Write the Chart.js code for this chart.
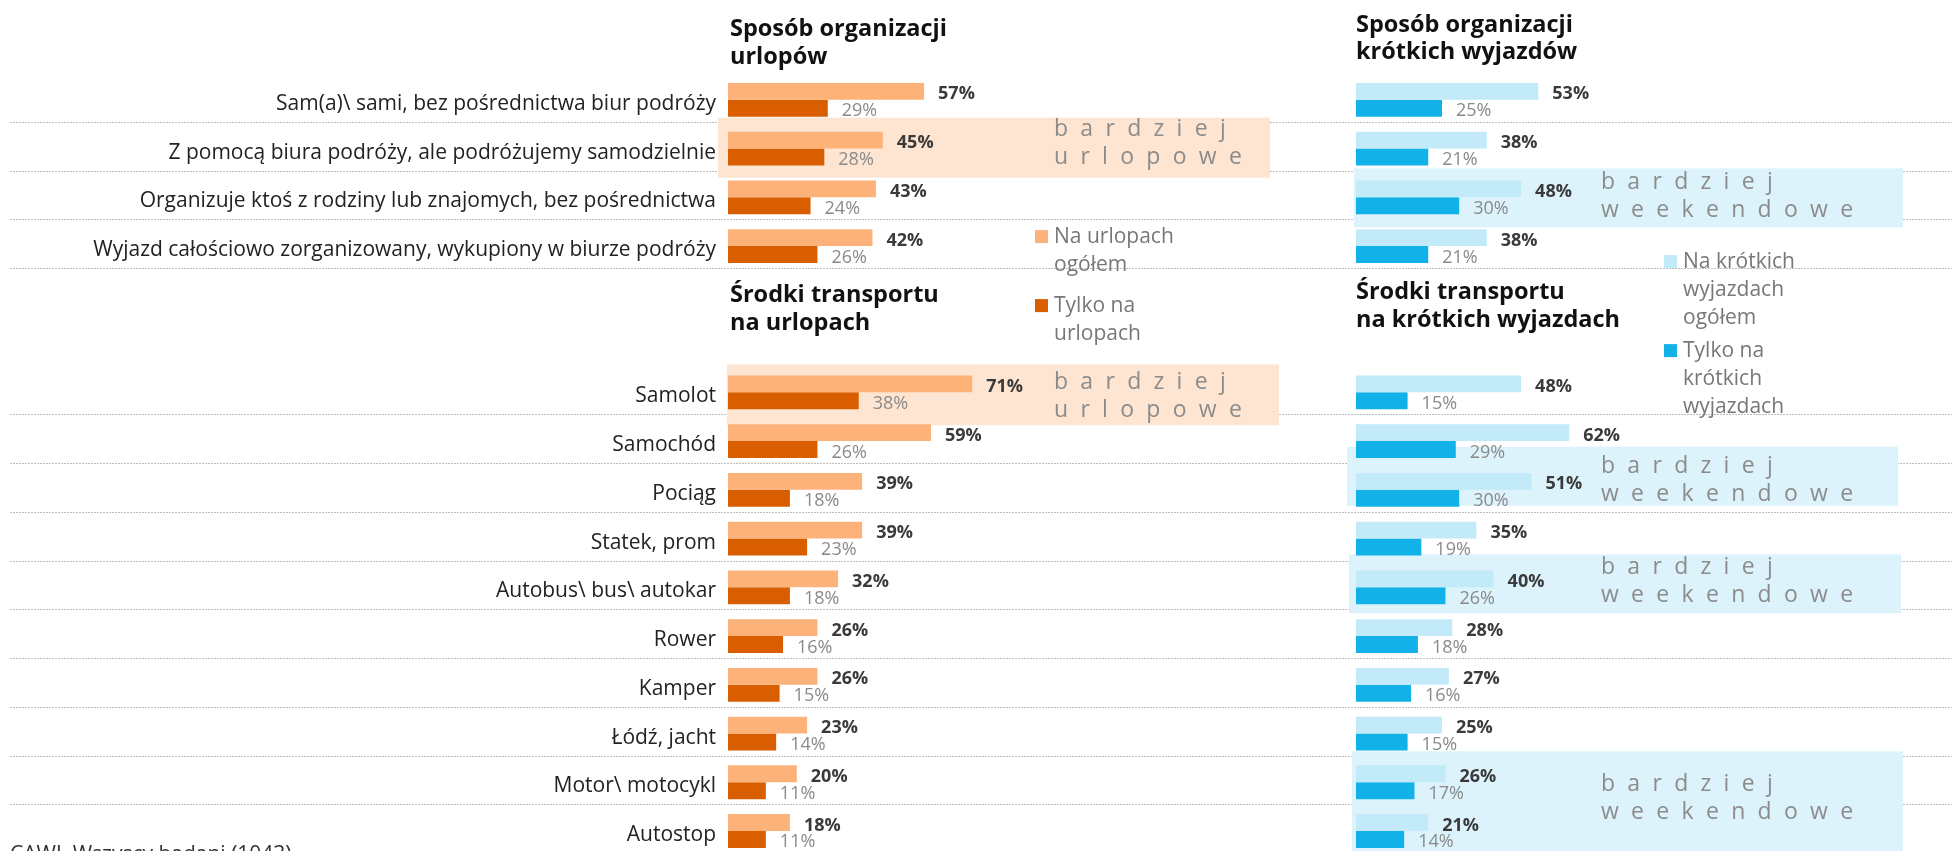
<!DOCTYPE html>
<html>
<head>
<meta charset="utf-8">
<script src="https://cdn.jsdelivr.net/npm/chart.js@4.4.0/dist/chart.umd.min.js"></script>
<style>
  html, body { margin: 0; padding: 0; background: #fff; }
  #wrap { width: 1952px; height: 851px; overflow: hidden; position: relative; }
  canvas { display: block; }
</style>
</head>
<body>
<div id="wrap"><canvas id="chart" width="1952" height="880"></canvas></div>
<script>
// --- data ---
const orgCategories = [
  'Sam(a)\\ sami, bez pośrednictwa biur podróży',
  'Z pomocą biura podróży, ale podróżujemy samodzielnie',
  'Organizuje ktoś z rodziny lub znajomych, bez pośrednictwa',
  'Wyjazd całościowo zorganizowany, wykupiony w biurze podróży'
];
const transportCategories = [
  'Samolot', 'Samochód', 'Pociąg', 'Statek, prom', 'Autobus\\ bus\\ autokar',
  'Rower', 'Kamper', 'Łódź, jacht', 'Motor\\ motocykl', 'Autostop'
];
const blankRows = ['', ''];

const orgHoliday = [57, 45, 43, 42];
const orgHolidayOnly = [29, 28, 24, 26];
const orgShort = [53, 38, 48, 38];
const orgShortOnly = [25, 21, 30, 21];

const transportHoliday = [71, 59, 39, 39, 32, 26, 26, 23, 20, 18];
const transportHolidayOnly = [38, 26, 18, 23, 18, 16, 15, 14, 11, 11];
const transportShort = [48, 62, 51, 35, 40, 28, 27, 25, 26, 21];
const transportShortOnly = [15, 29, 30, 19, 26, 18, 16, 15, 17, 14];

const legendHoliday = [['Na urlopach', 'ogółem'], ['Tylko na', 'urlopach']];
const legendShort = [['Na krótkich', 'wyjazdach', 'ogółem'], ['Tylko na', 'krótkich', 'wyjazdach']];

const titleOrgHoliday = ['Sposób organizacji', 'urlopów'];
const titleOrgShort = ['Sposób organizacji', 'krótkich wyjazdów'];
const titleTransportHoliday = ['Środki transportu', 'na urlopach'];
const titleTransportShort = ['Środki transportu', 'na krótkich wyjazdach'];
const footerText = 'CAWI, Wszyscy badani (1043)';

// --- layout ---
const PX_PER_PCT = 3.44;
const LEFT_START = 728;
const RIGHT_START = 1356;
const CANVAS_W = 1952;
const X_MAX = (CANVAS_W - LEFT_START) / PX_PER_PCT;
const X2_MIN = -(RIGHT_START - LEFT_START) / PX_PER_PCT;

const labels = orgCategories.concat(blankRows, transportCategories);
function join(a, b) { return a.concat(blankRows.map(() => null), b); }

const ORANGE_BOX = '#FDE5D2';
const BLUE_BOX = '#DDF3FB';

const highlights = [
  {side: 'x', row: orgCategories[1], dx: -10, top: -31, bottom: 29, width: 552, textDx: 326, lines: [-13, 15], text: ['bardziej', 'urlopowe'], color: ORANGE_BOX},
  {side: 'x', row: transportCategories[0], dx: -1, top: -28, bottom: 33, width: 552, textDx: 326, lines: [-3, 25], text: ['bardziej', 'urlopowe'], color: ORANGE_BOX},
  {side: 'x2', row: orgCategories[2], dx: -2, top: -29, bottom: 30, width: 549, textDx: 245, lines: [-8, 20], text: ['bardziej', 'weekendowe'], color: BLUE_BOX},
  {side: 'x2', row: transportCategories[2], dx: -9, top: -43, bottom: 16, width: 551, textDx: 245, lines: [-17, 11], text: ['bardziej', 'weekendowe'], color: BLUE_BOX},
  {side: 'x2', row: transportCategories[4], dx: -7, top: -33, bottom: 26, width: 552, textDx: 245, lines: [-13, 15], text: ['bardziej', 'weekendowe'], color: BLUE_BOX},
  {side: 'x2', row: transportCategories[8], dx: -4, top: -31, bottom: 80, width: 551, textDx: 245, lines: [9, 37], text: ['bardziej', 'weekendowe'], color: BLUE_BOX}
];

const titles = [
  {side: 'x', row: orgCategories[0], dx: 2, lines: titleOrgHoliday, baselines: [-64, -36]},
  {side: 'x2', row: orgCategories[0], dx: 0, lines: titleOrgShort, baselines: [-68, -41]},
  {side: 'x', row: transportCategories[0], dx: 2, lines: titleTransportHoliday, baselines: [-90, -62]},
  {side: 'x2', row: transportCategories[0], dx: 0, lines: titleTransportShort, baselines: [-93, -65]}
];

const legends = [
  {side: 'x', row: orgCategories[3], sqDx: 307, textDx: 326, baselines: [-3, 66], datasets: [0, 1]},
  {side: 'x2', row: orgCategories[3], sqDx: 308, textDx: 327, baselines: [22, 111], datasets: [2, 3]}
];

function drawSpaced(ctx, text, x, y, gap) {
  for (const ch of text) {
    ctx.fillText(ch, x, y);
    x += ctx.measureText(ch).width + gap;
  }
}

const FONT = '"Open Sans", sans-serif';
Chart.defaults.font.family = FONT;

const decorPlugin = {
  id: 'decor',
  beforeDatasetsDraw(chart) {
    const {ctx, scales} = chart;
    const y = scales.y;
    ctx.save();
    // dotted row separators
    ctx.strokeStyle = '#bdbdbd';
    ctx.lineWidth = 1;
    ctx.setLineDash([2, 1]);
    labels.forEach((lab, i) => {
      if (!lab) return;
      const yy = Math.round(y.getPixelForValue(i) + 22) + 0.5;
      ctx.beginPath();
      ctx.moveTo(10, yy);
      ctx.lineTo(chart.width, yy);
      ctx.stroke();
    });
    ctx.setLineDash([]);
    // highlight boxes
    highlights.forEach(h => {
      const s = scales[h.side];
      const c = y.getPixelForValue(labels.indexOf(h.row));
      const x0 = s.getPixelForValue(0);
      ctx.fillStyle = h.color;
      ctx.fillRect(x0 + h.dx, c + h.top, h.width, h.bottom - h.top);
      ctx.fillStyle = '#8c8c8c';
      ctx.font = '23px ' + FONT;
      ctx.textBaseline = 'alphabetic';
      ctx.textAlign = 'left';
      h.text.forEach((line, k) => drawSpaced(ctx, line, x0 + h.textDx, c + h.lines[k], 12.3));
    });
    ctx.restore();
  },
  afterDatasetsDraw(chart) {
    const {ctx} = chart;
    ctx.save();
    ctx.textAlign = 'left';
    ctx.textBaseline = 'alphabetic';
    chart.data.datasets.forEach((ds, di) => {
      const meta = chart.getDatasetMeta(di);
      const strong = ds.stack === 'total';
      ctx.font = (strong ? 'bold ' : '') + '18px ' + FONT;
      ctx.fillStyle = strong ? '#3a3a3a' : '#8a8a8a';
      meta.data.forEach((bar, i) => {
        const v = ds.data[i];
        if (v == null) return;
        ctx.fillText(v + '%', bar.x + 14, bar.y + 8);
      });
    });
    ctx.restore();
  },
  afterDraw(chart) {
    const {ctx, scales} = chart;
    const y = scales.y;
    ctx.save();
    ctx.textAlign = 'left';
    ctx.textBaseline = 'alphabetic';
    // titles
    ctx.fillStyle = '#111';
    ctx.font = 'bold 23.5px ' + FONT;
    titles.forEach(t => {
      const c = y.getPixelForValue(labels.indexOf(t.row));
      const x0 = scales[t.side].getPixelForValue(0) + t.dx;
      t.lines.forEach((line, k) => ctx.fillText(line, x0, c + t.baselines[k]));
    });
    // legends
    ctx.font = '21px ' + FONT;
    legends.forEach(l => {
      const c = y.getPixelForValue(labels.indexOf(l.row));
      const x0 = scales[l.side].getPixelForValue(0);
      l.datasets.forEach((di, k) => {
        const ds = chart.data.datasets[di];
        const base = c + l.baselines[k];
        ctx.fillStyle = ds.backgroundColor;
        ctx.fillRect(x0 + l.sqDx, base - 13, 13, 13);
        ctx.fillStyle = '#777';
        ds.legendLines.forEach((line, j) => ctx.fillText(line, x0 + l.textDx, base + j * 28));
      });
    });
    // source note
    ctx.fillStyle = '#333';
    ctx.font = '21px ' + FONT;
    ctx.fillText(footerText, 10, 861);
    ctx.restore();
  }
};

const chart = new Chart(document.getElementById('chart'), {
  type: 'bar',
  data: {
    labels: labels,
    datasets: [
      {label: legendHoliday[0].join(' '), legendLines: legendHoliday[0], data: join(orgHoliday, transportHoliday), backgroundColor: '#FDB27A', xAxisID: 'x', stack: 'total'},
      {label: legendHoliday[1].join(' '), legendLines: legendHoliday[1], data: join(orgHolidayOnly, transportHolidayOnly), backgroundColor: '#D85E00', xAxisID: 'x', stack: 'only'},
      {label: legendShort[0].join(' '), legendLines: legendShort[0], data: join(orgShort, transportShort), backgroundColor: '#C2EAF8', xAxisID: 'x2', stack: 'total'},
      {label: legendShort[1].join(' '), legendLines: legendShort[1], data: join(orgShortOnly, transportShortOnly), backgroundColor: '#12B2E8', xAxisID: 'x2', stack: 'only'}
    ]
  },
  options: {
    indexAxis: 'y',
    responsive: false,
    animation: false,
    events: [],
    layout: {padding: {top: 75.5, bottom: 880 - 859.5, left: 0, right: 0}},
    datasets: {
      bar: {categoryPercentage: 34 / 49, barPercentage: 1, borderWidth: 0}
    },
    plugins: {
      legend: {display: false},
      tooltip: {enabled: false}
    },
    scales: {
      x: {type: 'linear', display: false, min: 0, max: X_MAX, stacked: false},
      x2: {type: 'linear', axis: 'x', display: false, min: X2_MIN, max: X_MAX + X2_MIN, stacked: false},
      y: {
        type: 'category',
        position: 'left',
        offset: true,
        grid: {display: false, drawTicks: false},
        border: {display: false},
        ticks: {autoSkip: false, padding: 12, labelOffset: 4, color: '#222', font: {size: 21}},
        afterFit: (scale) => { scale.width = LEFT_START; }
      }
    }
  },
  plugins: [decorPlugin]
});
</script>
</body>
</html>
